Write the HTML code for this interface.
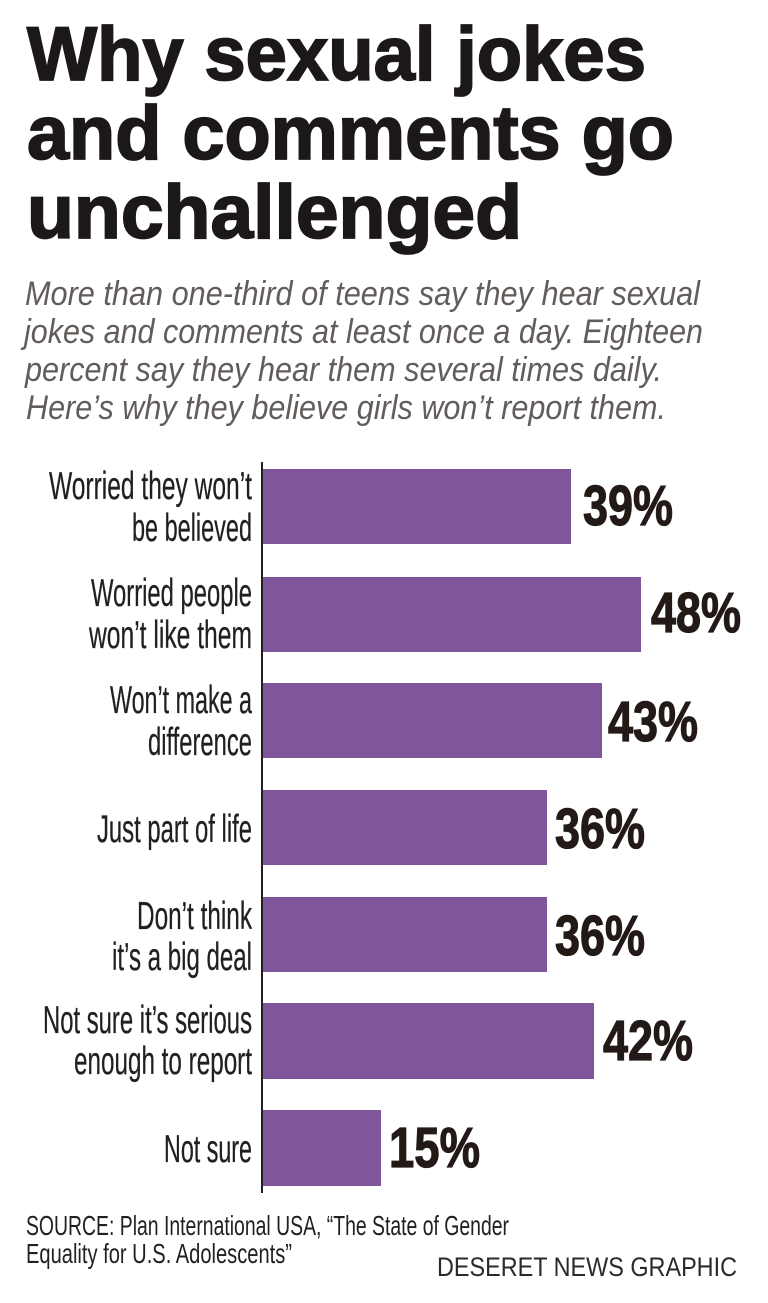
<!DOCTYPE html>
<html>
<head>
<meta charset="utf-8">
<style>
  html, body { margin: 0; padding: 0; background: #ffffff; }
  body { width: 768px; height: 1303px; overflow: hidden; }
  svg { display: block; }
  .title { font-family: "Liberation Sans", sans-serif; font-weight: bold; font-size: 76px; fill: #1c1819; stroke: #1c1819; stroke-width: 1.8px; }
  .sub { font-family: "Liberation Sans", sans-serif; font-style: italic; font-size: 34px; fill: #625d5a; }
  .lab { font-family: "Liberation Sans", sans-serif; font-size: 38.5px; fill: #231f20; stroke: #231f20; stroke-width: 0.3px; }
  .pct { font-family: "Liberation Sans", sans-serif; font-weight: bold; font-size: 57px; fill: #231a17; stroke: #231a17; stroke-width: 1.2px; }
  .src { font-family: "Liberation Sans", sans-serif; font-size: 27.5px; fill: #231f20; }
  .dn { font-family: "Liberation Sans", sans-serif; font-size: 26.5px; fill: #2a2a2a; }
</style>
</head>
<body>
<svg width="768" height="1303" viewBox="0 0 768 1303" xmlns="http://www.w3.org/2000/svg">
  <rect x="0" y="0" width="768" height="1303" fill="#ffffff"/>

  <!-- Title -->
  <text class="title" x="27" y="80" textLength="619" lengthAdjust="spacingAndGlyphs">Why sexual jokes</text>
  <text class="title" x="27" y="159" textLength="647" lengthAdjust="spacingAndGlyphs">and comments go</text>
  <text class="title" x="27" y="238" textLength="495" lengthAdjust="spacingAndGlyphs">unchallenged</text>

  <!-- Subtitle -->
  <text class="sub" x="25" y="305" textLength="675" lengthAdjust="spacingAndGlyphs">More than one-third of teens say they hear sexual</text>
  <text class="sub" x="24" y="343" textLength="679" lengthAdjust="spacingAndGlyphs">jokes and comments at least once a day. Eighteen</text>
  <text class="sub" x="25" y="381" textLength="637" lengthAdjust="spacingAndGlyphs">percent say they hear them several times daily.</text>
  <text class="sub" x="26" y="419" textLength="640" lengthAdjust="spacingAndGlyphs">Here’s why they believe girls won’t report them.</text>

  <!-- Axis -->
  <rect x="261" y="462" width="2" height="731" fill="#231f20"/>

  <!-- Bars -->
  <g fill="#7f5699">
    <rect x="263" y="469" width="308" height="75"/>
    <rect x="263" y="577" width="378" height="75"/>
    <rect x="263" y="683" width="339" height="75"/>
    <rect x="263" y="790" width="284" height="75"/>
    <rect x="263" y="897" width="284" height="75"/>
    <rect x="263" y="1003" width="331" height="76"/>
    <rect x="263" y="1110" width="118" height="76"/>
  </g>

  <!-- Category labels -->
  <text class="lab" x="49" y="499" textLength="203" lengthAdjust="spacingAndGlyphs">Worried they won’t</text>
  <text class="lab" x="132" y="541" textLength="120" lengthAdjust="spacingAndGlyphs">be believed</text>

  <text class="lab" x="91" y="606" textLength="161" lengthAdjust="spacingAndGlyphs">Worried people</text>
  <text class="lab" x="89" y="648" textLength="163" lengthAdjust="spacingAndGlyphs">won’t like them</text>

  <text class="lab" x="110" y="713" textLength="142" lengthAdjust="spacingAndGlyphs">Won’t make a</text>
  <text class="lab" x="148" y="755" textLength="104" lengthAdjust="spacingAndGlyphs">difference</text>

  <text class="lab" x="97" y="842" textLength="155" lengthAdjust="spacingAndGlyphs">Just part of life</text>

  <text class="lab" x="137" y="929" textLength="115" lengthAdjust="spacingAndGlyphs">Don’t think</text>
  <text class="lab" x="112" y="970" textLength="140" lengthAdjust="spacingAndGlyphs">it’s a big deal</text>

  <text class="lab" x="43" y="1033" textLength="209" lengthAdjust="spacingAndGlyphs">Not sure it’s serious</text>
  <text class="lab" x="74" y="1074" textLength="178" lengthAdjust="spacingAndGlyphs">enough to report</text>

  <text class="lab" x="164" y="1162" textLength="88" lengthAdjust="spacingAndGlyphs">Not sure</text>

  <!-- Percent labels -->
  <text class="pct" x="583" y="525" textLength="90" lengthAdjust="spacingAndGlyphs">39%</text>
  <text class="pct" x="651" y="632" textLength="90" lengthAdjust="spacingAndGlyphs">48%</text>
  <text class="pct" x="608" y="741" textLength="90" lengthAdjust="spacingAndGlyphs">43%</text>
  <text class="pct" x="555" y="848" textLength="90" lengthAdjust="spacingAndGlyphs">36%</text>
  <text class="pct" x="555" y="955" textLength="90" lengthAdjust="spacingAndGlyphs">36%</text>
  <text class="pct" x="603" y="1060" textLength="90" lengthAdjust="spacingAndGlyphs">42%</text>
  <text class="pct" x="389" y="1167" textLength="91" lengthAdjust="spacingAndGlyphs">15%</text>

  <!-- Footer -->
  <text class="src" x="26" y="1235" textLength="483" lengthAdjust="spacingAndGlyphs">SOURCE: Plan International USA, “The State of Gender</text>
  <text class="src" x="26" y="1263" textLength="266" lengthAdjust="spacingAndGlyphs">Equality for U.S. Adolescents”</text>
  <text class="dn" x="437" y="1276" textLength="300" lengthAdjust="spacingAndGlyphs">DESERET NEWS GRAPHIC</text>
</svg>
</body>
</html>
